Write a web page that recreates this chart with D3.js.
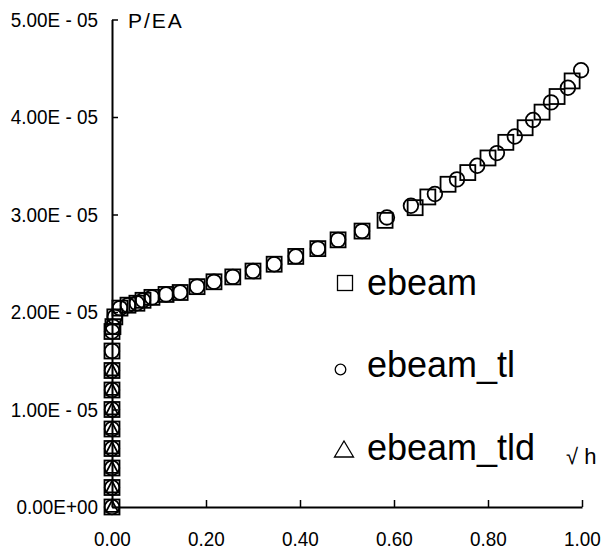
<!DOCTYPE html>
<html>
<head>
<meta charset="utf-8">
<script src="https://cdn.jsdelivr.net/npm/d3@7"></script>
<style>
  body { margin: 0; background: #fff; }
  svg { display: block; font-family: "Liberation Sans", Arial, sans-serif; }
</style>
</head>
<body>
<div id="vis"></div>
<script>
// values (x = sqrt(h), y = P/EA)
const xTicks = [0, 0.2, 0.4, 0.6, 0.8, 1.0];
const xTickLabels = ["0.00", "0.20", "0.40", "0.60", "0.80", "1.00"];
const yTicks = [0, 1e-5, 2e-5, 3e-5, 4e-5, 5e-5];
const yTickLabels = ["0.00E+00", "1.00E - 05", "2.00E - 05", "3.00E - 05", "4.00E - 05", "5.00E - 05"];

// ebeam (squares)
const ebeamX = [0, 0, 0, 0, 0, 0, 0, 0, 0, 0,
  0.002, 0.006, 0.017, 0.034, 0.053, 0.066, 0.085, 0.115, 0.145, 0.181,
  0.217, 0.257, 0.300, 0.345, 0.391, 0.438, 0.481, 0.532, 0.581, 0.645,
  0.672, 0.715, 0.757, 0.800, 0.838, 0.879, 0.915, 0.947, 0.979];
const ebeamY = [0, 0.2e-5, 0.4e-5, 0.6e-5, 0.8e-5, 1.0e-5, 1.2e-5, 1.4e-5, 1.6e-5, 1.8e-5,
  1.85e-5, 1.95e-5, 2.04e-5, 2.07e-5, 2.09e-5, 2.12e-5, 2.15e-5, 2.18e-5, 2.20e-5, 2.26e-5,
  2.31e-5, 2.36e-5, 2.42e-5, 2.49e-5, 2.57e-5, 2.65e-5, 2.74e-5, 2.83e-5, 2.94e-5, 3.07e-5,
  3.18e-5, 3.31e-5, 3.43e-5, 3.58e-5, 3.74e-5, 3.89e-5, 4.05e-5, 4.21e-5, 4.37e-5];

// ebeam_tl (circles)
const ebeamTlX = [0, 0, 0, 0, 0, 0, 0, 0, 0, 0,
  0.002, 0.006, 0.017, 0.034, 0.053, 0.066, 0.085, 0.115, 0.145, 0.181,
  0.217, 0.257, 0.300, 0.345, 0.391, 0.438, 0.481, 0.532, 0.585, 0.636,
  0.687, 0.734, 0.777, 0.819, 0.857, 0.896, 0.934, 0.970, 0.998];
const ebeamTlY = [0, 0.2e-5, 0.4e-5, 0.6e-5, 0.8e-5, 1.0e-5, 1.2e-5, 1.4e-5, 1.6e-5, 1.8e-5,
  1.85e-5, 1.95e-5, 2.04e-5, 2.07e-5, 2.09e-5, 2.12e-5, 2.15e-5, 2.18e-5, 2.20e-5, 2.26e-5,
  2.31e-5, 2.36e-5, 2.42e-5, 2.49e-5, 2.57e-5, 2.65e-5, 2.74e-5, 2.83e-5, 2.97e-5, 3.09e-5,
  3.21e-5, 3.36e-5, 3.50e-5, 3.63e-5, 3.80e-5, 3.97e-5, 4.15e-5, 4.30e-5, 4.48e-5];

// ebeam_tld (triangles)
const ebeamTldX = [0, 0, 0, 0, 0, 0, 0, 0];
const ebeamTldY = [0, 0.2e-5, 0.4e-5, 0.6e-5, 0.8e-5, 1.0e-5, 1.2e-5, 1.4e-5];

const seriesNames = ["ebeam", "ebeam_tl", "ebeam_tld"];

const W = 608, H = 553;
const svg = d3.select("#vis").append("svg")
  .attr("width", W).attr("height", H)
  .attr("viewBox", [0, 0, W, H].join(" "));

const x = d3.scaleLinear().domain([0, 1]).range([112, 582]);
const y = d3.scaleLinear().domain([0, 5e-5]).range([507, 19.5]);

const sx = 0.9; // narrow tick font

// x axis, ticks pointing up
const gx = svg.append("g").attr("transform", "translate(0,507)")
  .call(d3.axisBottom(x).tickValues(xTicks)
    .tickFormat((d, i) => xTickLabels[i])
    .tickSizeInner(-7).tickSizeOuter(0).tickPadding(24));
gx.select(".domain").attr("stroke-width", 1.8);
gx.selectAll(".tick line").attr("stroke-width", 1.5);
gx.selectAll(".tick text")
  .attr("font-size", 21).attr("font-family", "Liberation Sans, Arial, sans-serif")
  .attr("fill", "#000").attr("transform", `scale(${sx},1)`);

// y axis, ticks pointing right
const gy = svg.append("g").attr("transform", "translate(112,0)")
  .call(d3.axisLeft(y).tickValues(yTicks)
    .tickFormat((d, i) => yTickLabels[i])
    .tickSizeInner(-6).tickSizeOuter(0).tickPadding(14));
gy.select(".domain").attr("stroke-width", 2);
gy.selectAll(".tick line").attr("stroke-width", 1.5);
gy.selectAll(".tick text")
  .attr("font-size", 21).attr("font-family", "Liberation Sans, Arial, sans-serif")
  .attr("fill", "#000")
  .attr("x", -14 / sx)
  .attr("transform", `scale(${sx},1)`);

// axis titles
svg.append("text").attr("x", 128).attr("y", 28)
  .attr("font-size", 21).attr("letter-spacing", 2)
  .text("P/EA");
svg.append("text").attr("x", 566).attr("y", 464)
  .attr("font-size", 22)
  .text("√ h");

// markers
const plot = svg.append("g").attr("fill", "none").attr("stroke", "#000").attr("stroke-width", 1.8);
const sq = 15, cr = 7.3, tri = 12;
const triPath = s => `M0,${-s * 0.55}L${s / 2},${s * 0.4}L${-s / 2},${s * 0.4}Z`;

plot.selectAll("rect.ebeam").data(d3.range(ebeamX.length)).join("rect")
  .attr("class", "ebeam")
  .attr("x", i => x(ebeamX[i]) - sq / 2).attr("y", i => y(ebeamY[i]) - sq / 2)
  .attr("width", sq).attr("height", sq);

plot.selectAll("circle.tl").data(d3.range(ebeamTlX.length)).join("circle")
  .attr("class", "tl")
  .attr("cx", i => x(ebeamTlX[i])).attr("cy", i => y(ebeamTlY[i]))
  .attr("r", cr);

plot.selectAll("path.tld").data(d3.range(ebeamTldX.length)).join("path")
  .attr("class", "tld")
  .attr("transform", i => `translate(${x(ebeamTldX[i])},${y(ebeamTldY[i])})`)
  .attr("d", triPath(tri));

// legend
const leg = svg.append("g");
leg.append("rect").attr("x", 337.5).attr("y", 275.5).attr("width", 15).attr("height", 15)
  .attr("fill", "none").attr("stroke", "#000").attr("stroke-width", 1.3);
leg.append("circle").attr("cx", 340.5).attr("cy", 369.5).attr("r", 5.3)
  .attr("fill", "none").attr("stroke", "#000").attr("stroke-width", 1.3);
leg.append("path").attr("transform", "translate(344,449)")
  .attr("d", "M0,-8L9.5,8L-9.5,8Z")
  .attr("fill", "none").attr("stroke", "#000").attr("stroke-width", 1.3);
const legBase = [295, 377, 460];
leg.selectAll("text").data(seriesNames).join("text")
  .attr("x", 367).attr("y", (d, i) => legBase[i])
  .attr("font-size", 36)
  .text(d => d);
</script>
</body>
</html>
